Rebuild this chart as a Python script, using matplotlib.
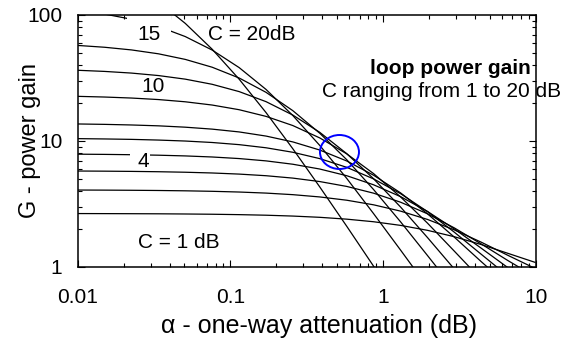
import matplotlib
matplotlib.use('Agg')
import matplotlib.pyplot as plt
from matplotlib.patches import Ellipse, Rectangle
from matplotlib.ticker import LogLocator, NullFormatter

plt.rcParams['font.family'] = ['Liberation Sans', 'DejaVu Sans']

# one-way attenuation in dB (each step x1.5)
alpha_db = [0.01, 0.015, 0.0225, 0.0338, 0.0506, 0.0759, 0.114, 0.171, 0.256,
            0.384, 0.577, 0.865, 1.30, 1.95, 2.92, 4.38, 6.57, 9.85]

# coupler values, dB
coupling_db = [1, 2, 3, 4, 5, 6, 8, 10, 12, 15, 20]

# loop power gain for each coupler value
g_1dB = [2.655, 2.652, 2.648, 2.643, 2.634, 2.622, 2.603, 2.576, 2.536, 2.479,
         2.397, 2.286, 2.139, 1.954, 1.739, 1.507, 1.282, 1.089]
g_2dB = [4.081, 4.074, 4.063, 4.047, 4.023, 3.987, 3.935, 3.859, 3.750, 3.597,
         3.388, 3.115, 2.775, 2.384, 1.970, 1.574, 1.235, 0.975]
g_3dB = [5.777, 5.761, 5.737, 5.702, 5.650, 5.573, 5.461, 5.301, 5.075, 4.765,
         4.359, 3.853, 3.266, 2.643, 2.043, 1.524, 1.122, 0.839]
g_4dB = [7.859, 7.828, 7.781, 7.713, 7.612, 7.465, 7.253, 6.952, 6.539, 5.992,
         5.302, 4.491, 3.616, 2.758, 2.005, 1.410, 0.985]
g_5dB = [10.44, 10.38, 10.30, 10.17, 9.992, 9.729, 9.354, 8.833, 8.137, 7.247,
         6.180, 5.000, 3.817, 2.751, 1.889, 1.262, 0.845]
g_6dB = [13.65, 13.55, 13.40, 13.19, 12.87, 12.42, 11.80, 10.94, 9.834, 8.479,
         6.940, 5.350, 3.871, 2.642, 1.725, 1.103, 0.713]
g_8dB = [22.61, 22.33, 21.92, 21.32, 20.47, 19.29, 17.71, 15.68, 13.26, 10.58,
         7.906, 5.509, 3.596, 2.227, 1.336, 0.797]
g_10dB = [36.41, 35.66, 34.59, 33.06, 30.96, 28.18, 24.66, 20.52, 16.06, 11.72,
          7.935, 5.013, 2.988, 1.711, 0.964]
g_12dB = [57.33, 55.45, 52.81, 49.19, 44.42, 38.50, 31.62, 24.33, 17.41, 11.53,
          7.104, 4.116, 2.280, 1.232, 0.664]
g_15dB = [108.5, 101.7, 92.56, 81.04, 67.43, 52.69, 38.24, 25.65, 15.93, 9.228,
          5.047, 2.651, 1.360, 0.694]
g_20dB = [263.7, 220.9, 173.7, 127.0, 85.8, 53.5, 30.95, 16.80, 8.679, 4.324,
          2.105, 1.014, 0.489]

curves = [g_1dB, g_2dB, g_3dB, g_4dB, g_5dB, g_6dB, g_8dB, g_10dB, g_12dB,
          g_15dB, g_20dB]

fig = plt.figure(figsize=(5.67, 3.43), dpi=100)
ax = fig.add_axes([0.137, 0.2216, 0.8083, 0.7347])

for g in curves:
    ax.plot(alpha_db[:len(g)], g, color='black', lw=0.9)

ax.set_xscale('log')
ax.set_yscale('log')
ax.set_xlim(0.01, 10)
ax.set_ylim(1, 100)
ax.set_xticks([0.01, 0.1, 1, 10], ['0.01', '0.1', '1', '10'])
ax.set_yticks([1, 10, 100], ['1', '10', '100'])
ax.xaxis.set_minor_locator(LogLocator(subs=range(2, 10)))
ax.yaxis.set_minor_locator(LogLocator(subs=range(2, 10)))
ax.xaxis.set_minor_formatter(NullFormatter())
ax.yaxis.set_minor_formatter(NullFormatter())
ax.tick_params(which='both', direction='in', top=True, right=True,
               width=0.8, colors='black')
ax.tick_params(which='major', length=5, labelsize=15)
ax.tick_params(axis='x', which='major', pad=15)
ax.tick_params(axis='y', which='major', pad=11)
ax.tick_params(which='minor', length=3)
for s in ax.spines.values():
    s.set_linewidth(1.1)

ax.set_xlabel('α - one-way attenuation (dB)', fontsize=18)
ax.xaxis.set_label_coords(0.526, -0.187)
ax.set_ylabel('G - power gain', fontsize=17)
ax.yaxis.set_label_coords(-0.081, 0.5)

# white backgrounds behind the curve labels
ax.add_patch(Rectangle((0.108, 0.889), 0.095, 0.111, transform=ax.transAxes,
                       facecolor='white', edgecolor='none', zorder=2.2))
ax.add_patch(Rectangle((0.114, 0.389), 0.043, 0.083, transform=ax.transAxes,
                       facecolor='white', edgecolor='none', zorder=2.2))

ax.text(0.1556, 0.9008, '15', transform=ax.transAxes, fontsize=15,
        ha='center', va='baseline')
ax.text(0.2847, 0.9008, 'C = 20dB', transform=ax.transAxes, fontsize=15,
        ha='left', va='baseline')
ax.text(0.1643, 0.6944, '10', transform=ax.transAxes, fontsize=15,
        ha='center', va='baseline')
ax.text(0.1425, 0.3968, '4', transform=ax.transAxes, fontsize=15,
        ha='center', va='baseline')
ax.text(0.1316, 0.0754, 'C = 1 dB', transform=ax.transAxes, fontsize=15,
        ha='left', va='baseline')
ax.text(0.9891, 0.7659, 'loop power gain', transform=ax.transAxes,
        fontsize=15, fontweight='bold', ha='right', va='baseline')
ax.text(0.5331, 0.6758, 'C ranging from 1 to 20 dB', transform=ax.transAxes,
        fontsize=15, ha='left', va='baseline')

# mark where the curves meet the envelope
ax.add_patch(Ellipse((0.5712, 0.4563), 0.0851, 0.1349, transform=ax.transAxes,
                     facecolor='none', edgecolor='#0000ff', lw=1.4, zorder=4))

fig.savefig('out.png', dpi=100)
